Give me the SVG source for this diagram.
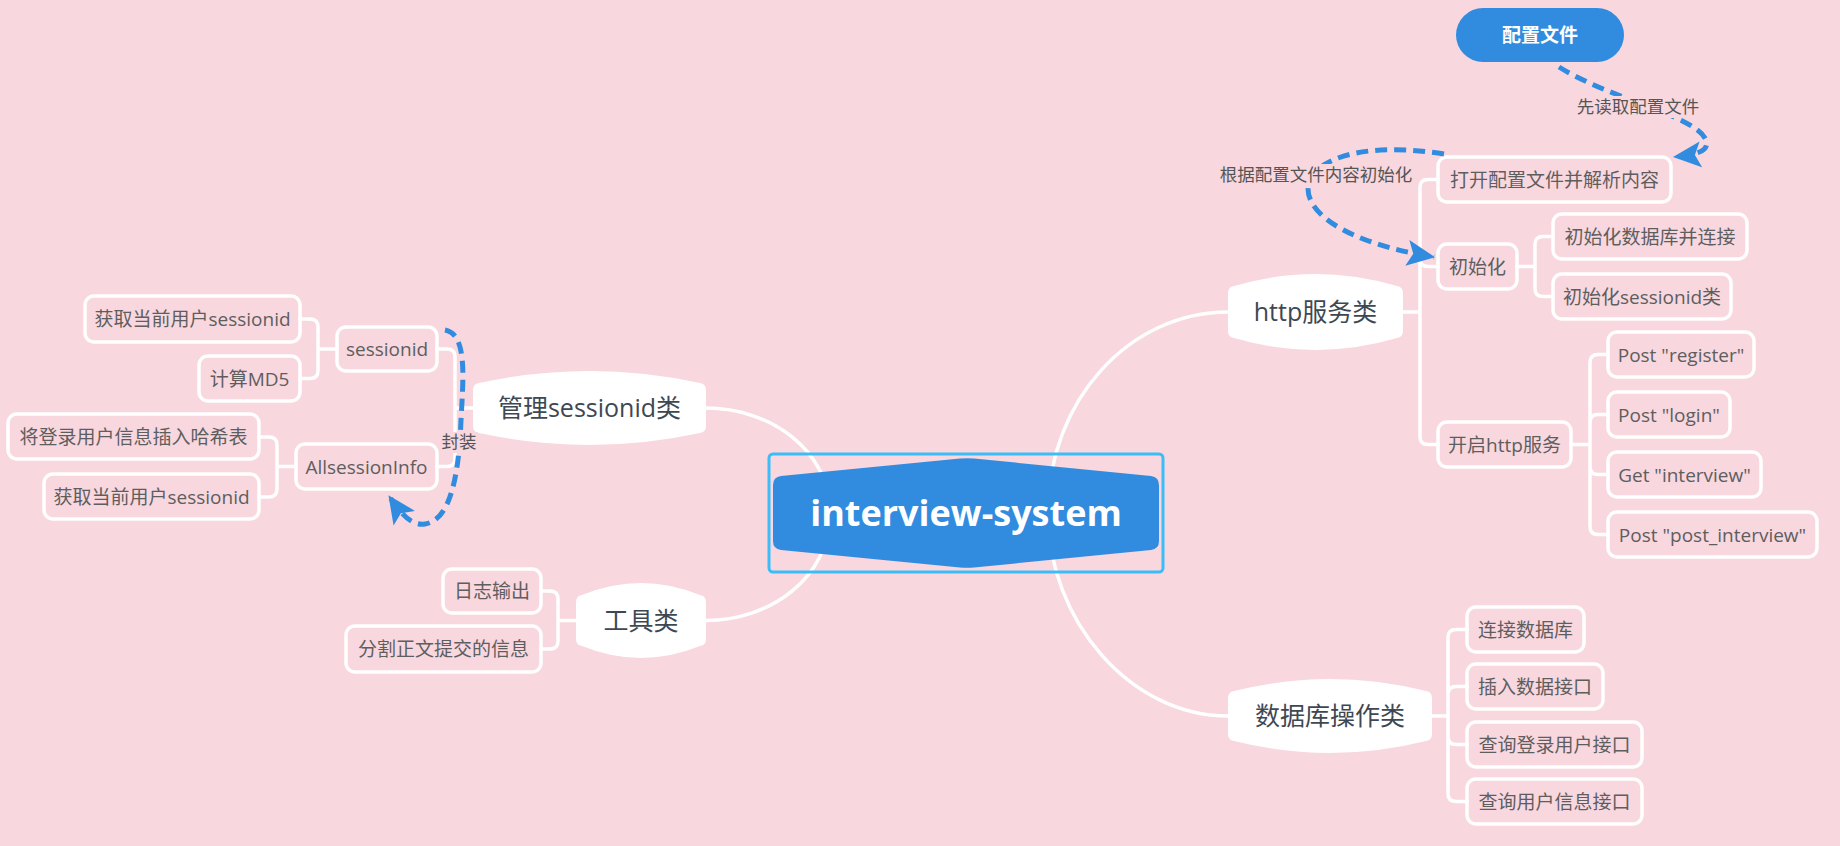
<svg xmlns="http://www.w3.org/2000/svg" width="1840" height="846" viewBox="0 0 1840 846">
<defs>
<style>
.bg{fill:#F8D7DE}
.conn{fill:none;stroke:#FFFFFF;stroke-width:3.5;stroke-linecap:round;stroke-linejoin:round}
.box{fill:none;stroke:#FFFFFF;stroke-width:3.5}
.main{fill:#FFFFFF}
.rel{fill:none;stroke:#318CE0;stroke-width:5;stroke-dasharray:12 7}
.t{font-family:"Open Sans","Noto Sans CJK SC",sans-serif;font-size:19px;fill:#5E5E5E;text-anchor:middle}
.mt{font-family:"Open Sans","Noto Sans CJK SC",sans-serif;font-size:25px;fill:#3E4853;text-anchor:middle}
.lbl{font-family:"Open Sans","Noto Sans CJK SC",sans-serif;font-size:17.5px;fill:#555555;text-anchor:middle}
.lblbg{fill:#F8D7DE}
</style>
<marker id="arr" markerUnits="userSpaceOnUse" markerWidth="30" markerHeight="28" viewBox="0 0 30 28" refX="27" refY="14" orient="auto">
<path d="M0,1 L28,14 L0,27 L6,14 Z" fill="#318CE0"/>
</marker>
</defs>
<rect class="bg" x="0" y="0" width="1840" height="846"/>

<g id="connectors">
<path class="conn" d="M1048,513 C1048,400 1130,312 1228,312"/>
<path class="conn" d="M1048,513 C1048,620 1130,716 1228,716"/>
<path class="conn" d="M830,513 C830,450 770,408 706,408"/>
<path class="conn" d="M830,513 C830,578 770,620.5 706,620.5"/>
<path class="conn" d="M1403,312 H1420 M1420,312 V187.5 Q1420,179.5 1428,179.5 H1438 M1420,312 V258.5 Q1420,266.5 1428,266.5 H1438 M1420,312 V436.5 Q1420,444.5 1428,444.5 H1438"/>
<path class="conn" d="M1517,266.5 H1535 M1535,266.5 V244.5 Q1535,236.5 1543,236.5 H1553 M1535,266.5 V288.5 Q1535,296.5 1543,296.5 H1553"/>
<path class="conn" d="M1571,444.5 H1590 M1590,444.5 V362.5 Q1590,354.5 1598,354.5 H1608 M1590,444.5 V422.5 Q1590,414.5 1598,414.5 H1608 M1590,444.5 V466.5 Q1590,474.5 1598,474.5 H1608 M1590,444.5 V526.5 Q1590,534.5 1598,534.5 H1608"/>
<path class="conn" d="M1432,716 H1448 M1448,716 V637.5 Q1448,629.5 1456,629.5 H1467 M1448,716 V694.5 Q1448,686.5 1456,686.5 H1467 M1448,716 V736.5 Q1448,744.5 1456,744.5 H1467 M1448,716 V793.5 Q1448,801.5 1456,801.5 H1467"/>
<path class="conn" d="M473,408 H455 M455,408 V357 Q455,349 447,349 H437 M455,408 V458.5 Q455,466.5 447,466.5 H437"/>
<path class="conn" d="M337,349 H318 M318,349 V327 Q318,319 310,319 H300 M318,349 V370.5 Q318,378.5 310,378.5 H300"/>
<path class="conn" d="M296,466.5 H277 M277,466.5 V445 Q277,437 269,437 H259 M277,466.5 V489 Q277,497 269,497 H259"/>
<path class="conn" d="M576,620.5 H558 M558,620.5 V599 Q558,591 550,591 H541 M558,620.5 V641 Q558,649 550,649 H541"/>
</g>

<g id="root">
<rect x="769" y="454" width="394" height="118" rx="4" fill="none" stroke="#3BBDF8" stroke-width="3"/>
<path d="M781,476 L960,458.5 Q967,457.8 974,458.5 L1151,476 Q1159,477 1159,485 L1159,541 Q1159,549 1151,550 L974,567.5 Q967,568.2 960,567.5 L781,550 Q773,549 773,541 L773,485 Q773,477 781,476 Z" fill="#318CE0"/>
<text x="966" y="526" font-family="'Open Sans',sans-serif" font-weight="bold" font-size="36" fill="#FFFFFF" text-anchor="middle">interview-system</text>
</g>

<g id="config">
<rect x="1456" y="8" width="168" height="54" rx="27" fill="#318CE0"/>
<text x="1540" y="42" font-family="'Open Sans','Noto Sans CJK SC',sans-serif" font-weight="bold" font-size="19" fill="#FFFFFF" text-anchor="middle">配置文件</text>
</g>

<g id="http">
<path class="main" d="M1228,293 Q1228,287 1234,286 Q1315.5,262 1397,286 Q1403,287 1403,293 L1403,331 Q1403,337 1397,338 Q1315.5,362 1234,338 Q1228,337 1228,331 Z"/>
<text class="mt" x="1315.5" y="321">http服务类</text>
</g>
<g id="db">
<path class="main" d="M1228,698 Q1228,692 1234,691 Q1330,667 1426,691 Q1432,692 1432,698 L1432,734 Q1432,740 1426,741 Q1330,765 1234,741 Q1228,740 1228,734 Z"/>
<text class="mt" x="1330" y="725">数据库操作类</text>
</g>
<g id="session">
<path class="main" d="M473,390 Q473,384 479,383 Q589.5,359 700,383 Q706,384 706,390 L706,426 Q706,432 700,433 Q589.5,457 479,433 Q473,432 473,426 Z"/>
<text class="mt" x="589.5" y="417">管理sessionid类</text>
</g>
<g id="tools">
<path class="main" d="M576,602 Q576,596 582,595 Q641,571 700,595 Q706,596 706,602 L706,639 Q706,645 700,646 Q641,670 582,646 Q576,645 576,639 Z"/>
<text class="mt" x="641" y="629.5">工具类</text>
</g>

<g id="n-open"><rect class="box" x="1438" y="157" width="233" height="45" rx="9"/><text class="t" x="1554.5" y="186.5">打开配置文件并解析内容</text></g>
<g id="n-init"><rect class="box" x="1438" y="244" width="79" height="45" rx="9"/><text class="t" x="1477.5" y="273.5">初始化</text></g>
<g id="n-initdb"><rect class="box" x="1553" y="214" width="194" height="45" rx="9"/><text class="t" x="1650" y="243.5">初始化数据库并连接</text></g>
<g id="n-initsess"><rect class="box" x="1553" y="274" width="178" height="45" rx="9"/><text class="t" x="1642" y="303.5">初始化sessionid类</text></g>
<g id="n-start"><rect class="box" x="1438" y="422" width="133" height="45" rx="9"/><text class="t" x="1504.5" y="451.5">开启http服务</text></g>
<g id="n-reg"><rect class="box" x="1608" y="332" width="146" height="45" rx="9"/><text class="t" x="1681" y="361.5">Post "register"</text></g>
<g id="n-login"><rect class="box" x="1608" y="392" width="122" height="45" rx="9"/><text class="t" x="1669" y="421.5">Post "login"</text></g>
<g id="n-get"><rect class="box" x="1608" y="452" width="153" height="45" rx="9"/><text class="t" x="1684.5" y="481.5">Get "interview"</text></g>
<g id="n-post"><rect class="box" x="1608" y="512" width="209" height="45" rx="9"/><text class="t" x="1712.5" y="541.5">Post "post_interview"</text></g>
<g id="n-conn"><rect class="box" x="1467" y="607" width="117" height="45" rx="9"/><text class="t" x="1525.5" y="636.5">连接数据库</text></g>
<g id="n-ins"><rect class="box" x="1467" y="664" width="136" height="45" rx="9"/><text class="t" x="1535" y="693.5">插入数据接口</text></g>
<g id="n-q1"><rect class="box" x="1467" y="722" width="175" height="45" rx="9"/><text class="t" x="1554.5" y="751.5">查询登录用户接口</text></g>
<g id="n-q2"><rect class="box" x="1467" y="779" width="175" height="45" rx="9"/><text class="t" x="1554.5" y="808.5">查询用户信息接口</text></g>

<g id="n-sid"><rect class="box" x="337" y="327" width="100" height="44" rx="9"/><text class="t" x="387" y="356">sessionid</text></g>
<g id="n-get1"><rect class="box" x="85" y="296" width="215" height="46" rx="9"/><text class="t" x="192.5" y="326">获取当前用户sessionid</text></g>
<g id="n-md5"><rect class="box" x="199" y="356" width="101" height="45" rx="9"/><text class="t" x="249.5" y="385.5">计算MD5</text></g>
<g id="n-all"><rect class="box" x="296" y="444" width="141" height="45" rx="9"/><text class="t" x="366.5" y="473.5">AllsessionInfo</text></g>
<g id="n-hash"><rect class="box" x="8" y="414" width="251" height="45" rx="9"/><text class="t" x="133.5" y="443.5">将登录用户信息插入哈希表</text></g>
<g id="n-get2"><rect class="box" x="44" y="474" width="215" height="45" rx="9"/><text class="t" x="151.5" y="503.5">获取当前用户sessionid</text></g>
<g id="n-log"><rect class="box" x="443" y="569" width="98" height="44" rx="9"/><text class="t" x="492" y="598">日志输出</text></g>
<g id="n-split"><rect class="box" x="346" y="626" width="195" height="46" rx="9"/><text class="t" x="443.5" y="656">分割正文提交的信息</text></g>

<g id="relationships">
<path class="rel" marker-end="url(#arr)" d="M1559,67 C1612,100 1695,115 1706,140 C1710,152 1694,155 1674,157"/>
<rect class="lblbg" x="1574" y="96" width="128" height="22"/>
<text class="lbl" x="1638" y="113">先读取配置文件</text>
<path class="rel" marker-end="url(#arr)" d="M1444,154 C1280,128 1250,228 1434,257"/>
<rect class="lblbg" x="1216" y="164" width="200" height="22"/>
<text class="lbl" x="1316" y="181">根据配置文件内容初始化</text>
<path class="rel" marker-end="url(#arr)" d="M445,330 C468,334 463,380 461,420 C459,470 452,520 425,524 C410,526 400,512 389,496"/>
<rect class="lblbg" x="440" y="432" width="38" height="21"/>
<text class="lbl" x="459" y="448">封装</text>
</g>
</svg>
